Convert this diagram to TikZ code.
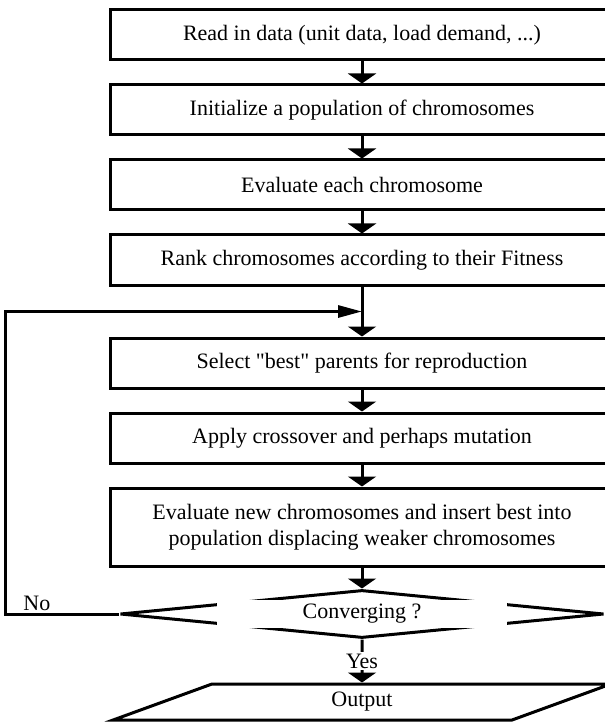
\documentclass[tikz,border=0pt]{standalone}
\usepackage{fontspec}
\setmainfont{Liberation Serif}[Ligatures=TeXOff]
\usepackage{tikz}
\usetikzlibrary{positioning, shapes.geometric}
\usetikzlibrary{calc, arrows.meta}
\tikzstyle{process} = [rectangle, minimum width=378pt, minimum height=37.5pt, text centered, align=center, draw=black, line width=2.25pt]
\tikzstyle{decision} = [diamond, minimum width=363pt, minimum height=36pt, inner sep=0pt, draw=black, line width=2.25pt]
\tikzstyle{dectext} = [rectangle, fill=white, minimum width=217pt, minimum height=21pt, inner sep=0pt]
\tikzstyle{io} = [trapezium, trapezium left angle=20, trapezium right angle=160, inner xsep=89.6pt, inner ysep=6pt, text height=11pt, text depth=4pt, text centered, draw=black, line width=2.25pt]
\tikzstyle{arrow} = [line width=2.25pt,-{Triangle[width=21pt,length=7.5pt]}]
\tikzstyle{looparrow} = [line width=2.25pt,-{Triangle[width=9pt,length=18pt]}]
\tikzstyle{every node}=[font=\fontsize{16.5}{19.5}\selectfont]

\begin{document}
\begin{tikzpicture}[node distance=56.25pt]
		\useasboundingbox (0,0) rectangle (453.75pt,-542.25pt);
		\node (pro1) [process] at (271.5pt,-26.25pt) {Read in data (unit data, load demand, ...)};
		\node (pro2) [process, below of=pro1] {Initialize a population of chromosomes};
		\node (pro3) [process, below of=pro2] {Evaluate each chromosome};
		\node (pro4) [process, below of=pro3] {Rank chromosomes according to their Fitness};
		\node (pro5) [process, below of=pro4, node distance=77.25pt] {Select "best" parents for reproduction};
		\node (pro6) [process, below of=pro5] {Apply crossover and perhaps mutation};
		\node (pro7) [process, below of=pro6, node distance=66.75pt, minimum height=58.5pt] {Evaluate new chromosomes and insert best into\\population displacing weaker chromosomes};
		\node (dec) [decision, below of=pro7, node distance=65.25pt] {};
		\node (dectxt) [dectext] at (dec) {Converging ?};
		\node (out) [io, below of=dec, node distance=66pt] {Output};
		\coordinate (join) at ($(pro4.south)!0.5!(pro5.north)$);
		\draw [arrow](pro1) -- (pro2);
		\draw [arrow](pro2) -- (pro3);
		\draw [arrow](pro3) -- (pro4);
		\draw [arrow](pro4) -- (pro5);
		\draw [arrow](pro5) -- (pro6);
		\draw [arrow](pro6) -- (pro7);
		\draw [arrow](pro7) -- (dec.north);
		\draw [arrow](dec.south) -- node[fill=white, inner sep=1pt] (yes) {Yes} (out.north);
		\draw [looparrow](dec.west) -- ++(-85pt,0) node[pos=0.72, above, inner sep=1pt] (no) {No} |- (join);
	\end{tikzpicture}
\end{document}
